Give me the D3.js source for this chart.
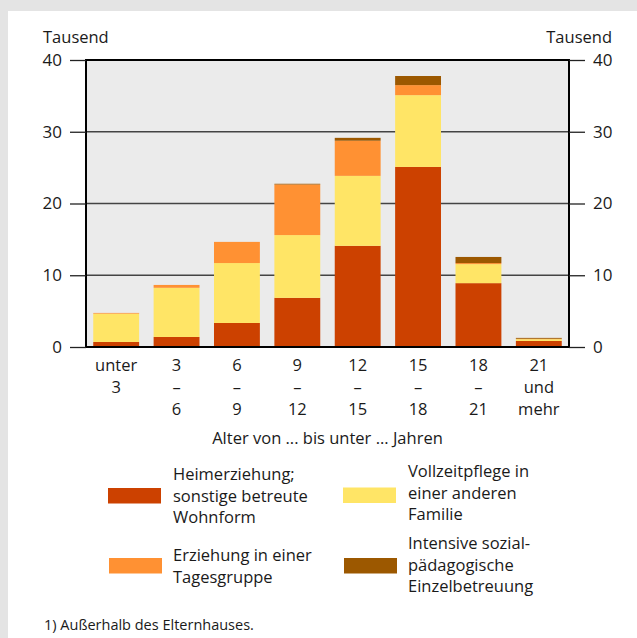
<!DOCTYPE html>
<html><head><meta charset="utf-8">
<script src="https://cdn.jsdelivr.net/npm/d3@7"></script>
<style>
html,body{margin:0;padding:0;background:#e4e4e4;}
svg{display:block;font-family:"Open Sans",sans-serif;}
</style></head>
<body>
<svg id="c" width="637" height="638"></svg>
<script>
// ---- data ----
const categories = ["unter 3","3–6","6–9","9–12","12–15","15–18","18–21","21 und mehr"];
const categoryLines = [["unter","3"],["3","–","6"],["6","–","9"],["9","–","12"],["12","–","15"],["15","–","18"],["18","–","21"],["21","und","mehr"]];
const heimerziehung = [0.7, 1.4, 3.35, 6.85, 14.1, 25.1, 8.9, 0.84];
const vollzeitpflege = [3.95, 6.85, 8.35, 8.75, 9.75, 10.0, 2.65, 0.25];
const tagesgruppe = [0.1, 0.4, 2.95, 7.05, 4.9, 1.4, 0.15, 0.06];
const einzelbetreuung = [0.0, 0.0, 0.0, 0.1, 0.4, 1.27, 0.85, 0.12];
const seriesKeys = ["heim","voll","tages","intens"];
const seriesLabels = [["Heimerziehung;","sonstige betreute","Wohnform"],["Vollzeitpflege in","einer anderen","Familie"],["Erziehung in einer","Tagesgruppe"],["Intensive sozial-","pädagogische","Einzelbetreuung"]];
const yTicks = [0,10,20,30,40];
const yUnit = "Tausend";
const xTitle = "Alter von ... bis unter ... Jahren";
const footnote = "1) Außerhalb des Elternhauses.";

const colors = {heim:"#cc4100", voll:"#ffe566", tages:"#ff9133", intens:"#9c5800"};

const rows = categories.map((c,i)=>({cat:c, heim:heimerziehung[i], voll:vollzeitpflege[i], tages:tagesgruppe[i], intens:einzelbetreuung[i]}));

const svg = d3.select("#c");
svg.append("rect").attr("x",8).attr("y",11).attr("width",629).attr("height",627).attr("fill","#fff");

const L=86, R=569, T=60, B=347;
const x = d3.scaleBand().domain(categories).range([L,R]).paddingInner(0.24).paddingOuter(0.12);
const y = d3.scaleLinear().domain([0,40]).range([B,T]);

// plot background
svg.append("rect").attr("x",L).attr("y",T).attr("width",R-L).attr("height",B-T).attr("fill","#ebebeb");

// gridlines
svg.append("g").selectAll("line").data(yTicks.filter(d=>d>0&&d<40)).join("line")
  .attr("x1",L).attr("x2",R).attr("y1",d=>y(d)).attr("y2",d=>y(d))
  .attr("stroke","#444").attr("stroke-width",1.3);

// bars
const stacked = d3.stack().keys(seriesKeys)(rows);
svg.append("g").selectAll("g").data(stacked).join("g").attr("fill",d=>colors[d.key])
  .selectAll("rect").data(d=>d).join("rect")
  .attr("x",d=>x(d.data.cat)).attr("width",x.bandwidth())
  .attr("y",d=>y(d[1])).attr("height",d=>Math.max(0,y(d[0])-y(d[1])));

// frame: top, left, right, bottom
svg.append("line").attr("x1",L).attr("x2",R).attr("y1",T).attr("y2",T).attr("stroke","#000").attr("stroke-width",2);
svg.append("line").attr("x1",L).attr("x2",R).attr("y1",B).attr("y2",B).attr("stroke","#000").attr("stroke-width",2);

// axes
const leftAxis = d3.axisLeft(y).tickValues(yTicks).tickSize(16).tickPadding(8);
const rightAxis = d3.axisRight(y).tickValues(yTicks).tickSize(16).tickPadding(8);
const ga = svg.append("g").attr("transform",`translate(${L},0)`).call(leftAxis);
const gb = svg.append("g").attr("transform",`translate(${R},0)`).call(rightAxis);
[ga,gb].forEach(g=>{
  g.select(".domain").attr("stroke","#000").attr("stroke-width",2).attr("d",`M0,${T-1}V${B+1}`);
  g.selectAll(".tick line").attr("stroke","#222").attr("stroke-width",1.3);
  g.selectAll(".tick text").attr("font-size",17).attr("fill","#1a1a1a").attr("font-family","'Open Sans',sans-serif");
});

// unit labels
svg.append("text").attr("x",43).attr("y",43).attr("font-size",16.5).attr("fill","#1a1a1a").text(yUnit);
svg.append("text").attr("x",612).attr("y",43).attr("text-anchor","end").attr("font-size",16.5).attr("fill","#1a1a1a").text(yUnit);

// x labels
const xl = svg.append("g");
categories.forEach((c,i)=>{
  const cx = x(c)+x.bandwidth()/2;
  const t = xl.append("text").attr("text-anchor","middle").attr("font-size",16.5).attr("fill","#1a1a1a");
  categoryLines[i].forEach((ln,j)=>{
    t.append("tspan").attr("x",cx).attr("y",371+j*22).text(ln);
  });
});
svg.append("text").attr("x",(L+R)/2).attr("y",444).attr("text-anchor","middle").attr("font-size",16.5).attr("fill","#1a1a1a").text(xTitle);

// legend
const legPos = [
  {sx:108, sy:488, tx:173, ty:480},
  {sx:343, sy:487.5, tx:408, ty:477},
  {sx:109, sy:558, tx:173, ty:561},
  {sx:344, sy:558, tx:408, ty:549}
];
seriesKeys.forEach((k,i)=>{
  const p = legPos[i];
  svg.append("rect").attr("x",p.sx).attr("y",p.sy).attr("width",53).attr("height",15.5).attr("fill",colors[k]);
  const t = svg.append("text").attr("font-size",16.5).attr("fill","#1a1a1a");
  seriesLabels[i].forEach((ln,j)=>t.append("tspan").attr("x",p.tx).attr("y",p.ty+j*21.5).text(ln));
});

svg.append("text").attr("x",44).attr("y",630).attr("font-size",14.5).attr("fill","#1a1a1a").text(footnote);
</script>
</body></html>
